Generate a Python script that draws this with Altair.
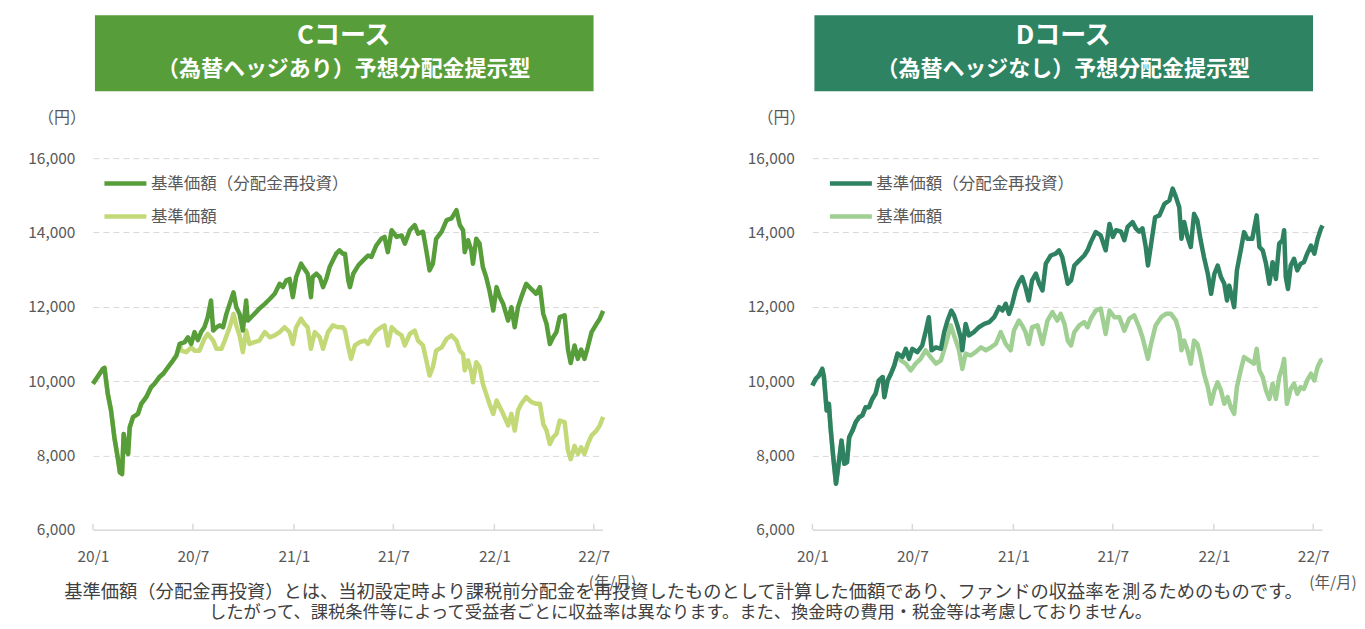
import altair as alt
import pandas as pd

# ---------------- data (days since 2020-01-01, NAV in yen) ----------------
C_RE_DAYS = [0, 18, 21, 27, 33, 39, 46, 49, 53, 56, 61, 64, 67, 73, 82, 88, 97, 106, 112, 121, 128, 137, 146, 152,
             158, 167, 173, 179, 185, 191, 197, 203, 209, 215, 219, 225, 231, 237, 243, 249, 256, 261, 267, 273, 279,
             282, 288, 294, 303, 313, 322, 331, 340, 346, 352, 358, 364, 370, 379, 385, 391, 397, 400, 407, 413, 419,
             425, 431, 437, 443, 449, 455, 459, 465, 468, 474, 483, 492, 501, 507, 516, 525, 531, 537, 544, 553, 562,
             568, 577, 586, 592, 601, 607, 613, 619, 625, 635, 644, 653, 662, 668, 674, 677, 683, 689, 692, 698, 704,
             710, 716, 722, 729, 735, 741, 747, 756, 762, 768, 774, 780, 789, 798, 807, 814, 820, 826, 832, 838, 844,
             850, 859, 865, 870, 877, 883, 889, 895, 901, 908, 917, 923, 929]
C_RE_VALS = [9930, 10330, 10360, 9660, 9210, 8490, 7860, 7550, 7500, 8580, 8130, 8040, 8760, 9030, 9120, 9390, 9570,
             9840, 9930, 10110, 10200, 10380, 10560, 10690, 11000, 11050, 11180, 11000, 11320, 11100, 11320, 11450,
             11720, 12170, 11360, 11450, 11500, 11450, 11810, 12080, 12390, 11990, 11810, 11360, 12170, 11630, 11720,
             11810, 11950, 12080, 12210, 12350, 12620, 12530, 12710, 12750, 12260, 12800, 13160, 13020, 12890, 12260,
             12800, 12890, 12800, 12530, 12750, 13070, 13250, 13430, 13520, 13430, 13430, 12710, 12530, 12890, 13110,
             13250, 13380, 13340, 13650, 13830, 13880, 13470, 14060, 13880, 13920, 13700, 14060, 14200, 13970, 14020,
             13520, 12980, 13160, 13830, 14020, 14330, 14380, 14600, 14200, 14060, 13470, 13790, 13520, 13160, 13830,
             13700, 13070, 12800, 12440, 11900, 12530, 12260, 12080, 11630, 11990, 11450, 11990, 12260, 12620, 12480,
             12350, 12530, 11810, 11540, 11000, 11180, 11320, 11720, 11770, 10850, 10490, 10960, 10600, 10850, 10600,
             10910, 11320, 11540, 11680, 11890]

C_NAV_DAYS = [161, 170, 179, 185, 194, 203, 209, 219, 225, 234, 240, 249, 256, 261, 267, 273, 279, 285, 294, 303,
              313, 322, 331, 340, 349, 358, 364, 370, 379, 385, 391, 397, 404, 413, 419, 428, 437, 446, 455, 459, 465,
              470, 477, 486, 495, 501, 507, 516, 525, 531, 537, 544, 553, 562, 568, 577, 586, 592, 601, 607, 613, 619,
              625, 635, 644, 653, 662, 668, 674, 677, 683, 689, 692, 698, 704, 710, 716, 722, 729, 735, 741, 747, 756,
              762, 768, 774, 780, 789, 798, 807, 814, 820, 826, 832, 838, 844, 850, 859, 865, 870, 877, 883, 889, 895,
              901, 908, 917, 923, 929]
C_NAV_VALS = [10820, 10780, 10910, 10820, 10820, 11140, 11270, 11090, 10870, 10870, 11090, 11450, 11810, 11500, 11230,
              10780, 11360, 11000, 11050, 11090, 11320, 11180, 11230, 11320, 11450, 11320, 11000, 11450, 11680, 11540,
              11450, 10870, 11320, 11180, 10870, 11320, 11500, 11450, 11450, 11360, 10910, 10600, 10960, 11050, 11090,
              11000, 11180, 11360, 11450, 11500, 10960, 11450, 11320, 11230, 10960, 11270, 11360, 11090, 10960, 10560,
              10150, 10380, 10820, 10910, 11140, 11230, 11090, 10820, 10730, 10290, 10560, 10240, 9970, 10510, 10380,
              9930, 9660, 9390, 9120, 9480, 9300, 9120, 8810, 9120, 8670, 9210, 9390, 9570, 9440, 9390, 9390, 8850,
              8670, 8310, 8490, 8580, 8940, 8900, 8130, 7900, 8260, 8040, 8220, 8040, 8310, 8540, 8670, 8810, 9040]

D_RE_DAYS = [0, 6, 12, 18, 21, 26, 30, 33, 38, 43, 47, 50, 53, 58, 63, 67, 73, 79, 85, 91, 97, 103, 109, 115, 121,
             128, 131, 137, 143, 149, 155, 164, 170, 176, 182, 191, 200, 206, 212, 217, 225, 234, 240, 246, 253, 258,
             264, 270, 273, 279, 285, 294, 303, 313, 322, 331, 340, 346, 352, 358, 364, 370, 376, 382, 388, 394, 400,
             407, 413, 419, 425, 434, 443, 449, 455, 465, 471, 477, 486, 495, 501, 507, 516, 525, 534, 541, 547, 553,
             562, 568, 574, 583, 589, 595, 601, 607, 611, 616, 624, 632, 641, 650, 656, 662, 668, 672, 677, 683, 689,
             695, 701, 707, 713, 720, 726, 732, 738, 744, 750, 755, 759, 764, 768, 773, 780, 786, 792, 801, 809, 814,
             820, 826, 832, 838, 844, 850, 856, 859, 862, 866, 871, 877, 883, 889, 895, 901, 908, 914, 920, 926, 929]
D_RE_VALS = [9880, 10060, 10150, 10330, 10110, 9210, 9390, 8760, 7950, 7240, 7690, 8040, 8400, 7780, 7820, 8490, 8670,
             8900, 9030, 9080, 9300, 9300, 9520, 9660, 10020, 10110, 9570, 10020, 10200, 10420, 10740, 10650, 10870,
             10600, 10870, 10780, 10960, 11320, 11720, 10830, 10910, 10870, 11320, 11630, 11900, 11770, 11500, 11180,
             10830, 11540, 11230, 11320, 11450, 11540, 11590, 11720, 11990, 11900, 12080, 11810, 12080, 12440, 12660,
             12800, 12530, 12170, 12710, 12890, 12620, 12440, 13160, 13380, 13430, 13520, 13340, 12620, 12710, 13110,
             13250, 13380, 13520, 13740, 14010, 13920, 13520, 14230, 13880, 14060, 14020, 13790, 14150, 14280, 14110,
             14020, 14110, 13610, 13110, 13610, 14410, 14460, 14770, 14860, 15180, 14950, 14680, 13830, 14280, 13880,
             13610, 14500, 14320, 13790, 13340, 12890, 12350, 12890, 13110, 12800, 12620, 12170, 12570, 12260, 11990,
             12980, 13520, 14010, 13830, 13830, 14460, 13610, 13520, 13160, 12620, 13200, 12750, 13700, 13790, 14060,
             12800, 12480, 13110, 13290, 12980, 13160, 13200, 13430, 13650, 13430, 13830, 14100, 14190]

D_NAV_DAYS = [161, 170, 179, 188, 197, 206, 215, 225, 234, 243, 252, 258, 267, 273, 279, 288, 297, 307, 316, 325, 334,
              343, 352, 361, 367, 376, 382, 388, 394, 400, 410, 419, 428, 437, 446, 452, 459, 465, 471, 477, 486, 495,
              501, 507, 516, 525, 534, 541, 550, 559, 568, 577, 586, 595, 601, 607, 611, 616, 625, 635, 644, 653, 662,
              668, 672, 677, 683, 689, 695, 701, 707, 713, 720, 726, 732, 738, 744, 750, 756, 762, 768, 773, 780, 786,
              795, 804, 809, 814, 820, 826, 832, 838, 844, 850, 856, 859, 864, 871, 877, 883, 889, 895, 901, 908, 914,
              920, 926, 929]
D_NAV_VALS = [10560, 10470, 10290, 10470, 10600, 10830, 10650, 10470, 10560, 11000, 11500, 11230, 10830, 10330, 10740,
              10690, 10780, 10910, 10830, 10910, 11000, 11320, 11000, 10830, 11360, 11630, 11500, 11320, 11000, 11450,
              11500, 11000, 11630, 11860, 11630, 11810, 11540, 11090, 10960, 11320, 11500, 11590, 11450, 11680, 11900,
              11950, 11270, 11900, 11720, 11720, 11360, 11680, 11770, 11450, 11180, 10830, 10600, 10960, 11500, 11720,
              11810, 11810, 11630, 11320, 10830, 11090, 10830, 10470, 11090, 11000, 10650, 10200, 9840, 9390, 9750,
              9970, 9750, 9390, 9570, 9300, 9120, 9840, 10290, 10650, 10560, 10470, 10870, 10290, 10110, 9750, 9520,
              9930, 9520, 10110, 10380, 10600, 9390, 9790, 9930, 9660, 9840, 9790, 10020, 10200, 10020, 10380, 10560,
              10580]

SERIES = ["基準価額（分配金再投資）", "基準価額"]
TICK_MONTHS = [(2020, 1), (2020, 7), (2021, 1), (2021, 7), (2022, 1), (2022, 7)]
Y_TICKS = [6000, 8000, 10000, 12000, 14000, 16000]
TITLE_C = ["Cコース", "（為替ヘッジあり）予想分配金提示型"]
TITLE_D = ["Dコース", "（為替ヘッジなし）予想分配金提示型"]
NOTE_1 = "基準価額（分配金再投資）とは、当初設定時より課税前分配金を再投資したものとして計算した価額であり、ファンドの収益率を測るためのものです。"
NOTE_2 = "したがって、課税条件等によって受益者ごとに収益率は異なります。また、換金時の費用・税金等は考慮しておりません。"

FONT = "Noto Sans CJK JP"
GRAY = "#595959"
W, H = 510, 372
START = pd.Timestamp("2020-01-01")


def frame(days, vals, name):
    return pd.DataFrame({"date": START + pd.to_timedelta(days, unit="D"), "value": vals, "series": name})


def label(text, size, color, x, y, weight="normal"):
    return alt.Chart(pd.DataFrame({"t": [text]})).mark_text(
        font=FONT, fontSize=size, fontWeight=weight, color=color, align="center", baseline="middle").encode(
        text="t:N", x=alt.value(x), y=alt.value(y))


def panel(re_days, re_vals, nav_days, nav_vals, dark, light, titles, box_color, legend_x, ym_x, with_note):
    # the distribution-free line coincides with the reinvested line before the first distribution
    split = sum(1 for d in re_days if d < nav_days[0])
    nav = pd.concat([frame(re_days[:split], re_vals[:split], SERIES[1]),
                     frame(nav_days, nav_vals, SERIES[1])])
    re = frame(re_days, re_vals, SERIES[0])

    xscale = alt.Scale(domain=[alt.DateTime(year=2020, month=1, date=1),
                               alt.DateTime(year=2022, month=7, date=17)])
    yscale = alt.Scale(domain=[6000, 16000], nice=False, zero=False)
    color = alt.Color("series:N", sort=SERIES,
                      scale=alt.Scale(domain=SERIES, range=[dark, light]),
                      legend=alt.Legend(orient="none", legendX=legend_x, legendY=2, title=None,
                                        symbolType="stroke", symbolStrokeWidth=4.5, symbolSize=1764,
                                        labelFontSize=16.5, labelColor=GRAY, labelFont=FONT, labelLimit=400,
                                        labelOffset=2, rowPadding=-14))
    xaxis = alt.Axis(values=[alt.DateTime(year=y, month=m, date=1) for y, m in TICK_MONTHS],
                     format="%y/%-m", title=None, grid=False, ticks=False, domainColor="#d9d9d9",
                     domainWidth=1.5, labelFontSize=15.5, labelColor=GRAY, labelFont=FONT, labelPadding=20,
                     labelFlush=False)
    yaxis = alt.Axis(values=Y_TICKS, format=",.0f", title=None, domain=False, ticks=False,
                     gridColor="#d9d9d9", gridDash=[6, 4], gridWidth=1,
                     labelFontSize=15.5, labelColor=GRAY, labelFont=FONT, labelPadding=18)

    light_line = alt.Chart(nav).mark_line(strokeWidth=4.5, strokeJoin="round").encode(
        x=alt.X("date:T", scale=xscale, axis=xaxis),
        y=alt.Y("value:Q", scale=yscale, axis=yaxis),
        color=color)
    dark_line = alt.Chart(re).mark_line(strokeWidth=4.5, strokeJoin="round").encode(
        x=alt.X("date:T", scale=xscale),
        y=alt.Y("value:Q", scale=yscale),
        color=color)

    ticks_df = pd.DataFrame({"date": [pd.Timestamp(year=y, month=m, day=1) for y, m in TICK_MONTHS]})
    ticks = alt.Chart(ticks_df).mark_rule(color="#d9d9d9", strokeWidth=1.5).encode(
        x=alt.X("date:T", scale=xscale), y=alt.value(H - 6), y2=alt.value(H))

    one = pd.DataFrame({"k": [0]})
    box = alt.Chart(one).mark_rect(color=box_color).encode(
        x=alt.value(2), x2=alt.value(501), y=alt.value(-143), y2=alt.value(-67))
    t1 = label(titles[0], 26, "white", 251, -122, "bold")
    t2 = label(titles[1], 22, "white", 251, -89, "bold")
    yen = label("（円）", 16, GRAY, -31, -40)
    ym = label("(年/月)", 15.5, GRAY, ym_x, 425)
    pin = alt.Chart(one).mark_rect(color="white", opacity=0).encode(
        x=alt.value(-85), x2=alt.value(-84), y=alt.value(0), y2=alt.value(1))

    layers = [pin, box, t1, t2, yen, ticks, light_line, dark_line, ym]
    if with_note:
        layers.append(label(NOTE_1, 18.3, "#404040", 591, 435))
        layers.append(label(NOTE_2, 17.3, "#404040", 588, 455))
    return alt.layer(*layers).properties(width=W, height=H)


left = panel(C_RE_DAYS, C_RE_VALS, C_NAV_DAYS, C_NAV_VALS, "#579D3A", "#C3D977",
             TITLE_C, "#579D3A", 9, 520, True)
right = panel(D_RE_DAYS, D_RE_VALS, D_NAV_DAYS, D_NAV_VALS, "#2E8261", "#A0CF93",
              TITLE_D, "#2E8462", 15, 521, False)

chart = alt.hconcat(left, right, spacing=210, bounds="flush").resolve_scale(
    color="independent").properties(
    padding={"left": 0, "top": 7, "right": 0, "bottom": 0}).configure_view(stroke=None)

chart.save("out.html", embed_options={"renderer": "svg", "actions": False})
